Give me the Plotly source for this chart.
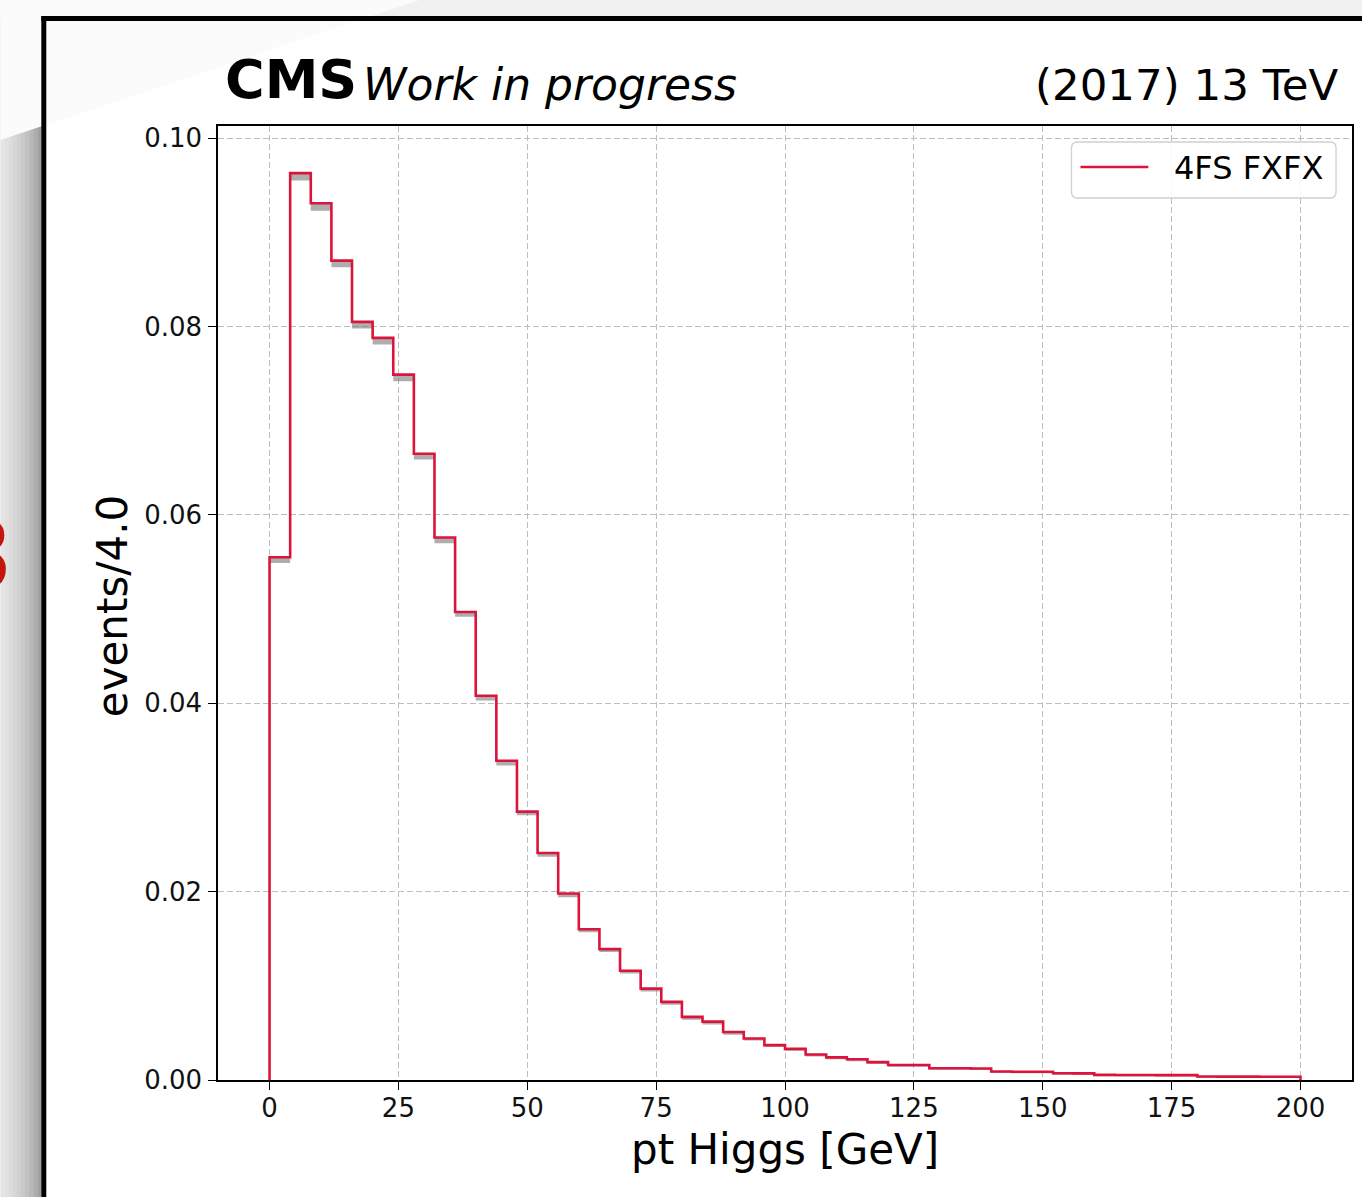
import plotly.graph_objects as go

# Higgs pT histogram, 4 GeV bins, normalised
bin_edges = list(range(0, 204, 4))
events_4fs_fxfx = [
    0.0555, 0.0963, 0.0931, 0.0870, 0.0805, 0.0788, 0.0749, 0.0665, 0.0576, 0.0497,
    0.0408, 0.0339, 0.0285, 0.0241, 0.0198, 0.0160, 0.0139, 0.0116, 0.0097, 0.0083,
    0.0067, 0.0062, 0.0051, 0.0044, 0.0037, 0.0033, 0.0027, 0.0024, 0.0022, 0.0019,
    0.0016, 0.0016, 0.00125, 0.00124, 0.00122, 0.00090, 0.00088, 0.00087, 0.00072, 0.00070,
    0.00054, 0.00053, 0.00053, 0.00052, 0.00052, 0.00037, 0.00036, 0.00036, 0.00035, 0.00035,
]
# statistical uncertainty per bin (lower side of the shaded band)
stat_unc = [
    0.0006, 0.0008, 0.0008, 0.0007, 0.0007, 0.0007, 0.0007, 0.0006, 0.0006, 0.0005,
    0.0005, 0.0005, 0.0004, 0.0004, 0.0004, 0.0003, 0.0003, 0.0003, 0.0003, 0.0003,
    0.0003, 0.0003, 0.0003, 0.0002, 0.0002, 0.0002, 0.0002, 0.0002, 0.0002, 0.0002,
    0.0002, 0.0002, 0.00015, 0.00015, 0.00015, 0.00015, 0.00015, 0.00015, 0.00015, 0.00015,
    0.00015, 0.00015, 0.00015, 0.00015, 0.00015, 0.00015, 0.00015, 0.00015, 0.00015, 0.00015,
]
x_ticks = [0, 25, 50, 75, 100, 125, 150, 175, 200]
y_ticks = [0.00, 0.02, 0.04, 0.06, 0.08, 0.10]
series_label = "4FS FXFX"
x_title = "pt Higgs [GeV]"
y_title = "events/4.0"

RED = "#dc143c"
FONT = "DejaVu Sans"

# canvas geometry (pixels)
FW, FH = 1364, 1197
PL, PR, PT, PB = 218, 1354, 126, 1080


def fx(px):
    return (px - PL) / (PR - PL)


def fy(py):
    return (PB - py) / (PB - PT)


fig = go.Figure()

# shaded uncertainty band below each bin content
band_lo = [v - e for v, e in zip(events_4fs_fxfx, stat_unc)]
fig.add_trace(go.Scatter(
    x=bin_edges, y=band_lo + [band_lo[-1]], mode="lines", line_shape="hv",
    line=dict(width=0, color="rgba(0,0,0,0)"), hoverinfo="skip", showlegend=False,
))
fig.add_trace(go.Scatter(
    x=bin_edges, y=events_4fs_fxfx + [events_4fs_fxfx[-1]], mode="lines", line_shape="hv",
    line=dict(width=0, color="rgba(0,0,0,0)"), fill="tonexty",
    fillcolor="rgba(120,120,120,0.6)", hoverinfo="skip", showlegend=False,
))

# step outline, starting and ending on the baseline
step_x = [bin_edges[0]] + bin_edges[:-1] + [bin_edges[-1]]
step_y = [0] + events_4fs_fxfx + [0]
fig.add_trace(go.Scatter(
    x=step_x, y=step_y, mode="lines", line_shape="hv",
    line=dict(color=RED, width=2.6), name=series_label, showlegend=False,
))

shapes = []
# surrounding window background
shapes.append(dict(type="rect", xref="paper", yref="paper", x0=fx(0), x1=fx(FW), y0=fy(0), y1=fy(18),
                   fillcolor="#f1f1f1", line_width=0, layer="below"))
grad = ["#e4e4e4", "#e0e0e0", "#dcdcdc", "#d6d6d6", "#d0d0d0", "#c9c9c9",
        "#c1c1c1", "#b8b8b8", "#adadad", "#a0a0a0"]
for i, c in enumerate(grad):
    shapes.append(dict(type="rect", xref="paper", yref="paper", x0=fx(i * 4.1), x1=fx((i + 1) * 4.1 + 0.3),
                       y0=fy(18), y1=fy(FH), fillcolor=c, line_width=0, layer="below"))
shapes.append(dict(type="path", xref="paper", yref="paper",
                   path=f"M {fx(0)} {fy(0)} L {fx(420)} {fy(0)} L {fx(0)} {fy(140)} Z",
                   fillcolor="#fbfbfb", line_width=0, layer="below"))
# dark window frame
shapes.append(dict(type="rect", xref="paper", yref="paper", x0=fx(41), x1=fx(46), y0=fy(16), y1=fy(FH),
                   fillcolor="#000000", line_width=0, layer="below"))
shapes.append(dict(type="rect", xref="paper", yref="paper", x0=fx(41), x1=fx(FW), y0=fy(16), y1=fy(21),
                   fillcolor="#000000", line_width=0, layer="below"))

# legend box with rounded corners
lx0, lx1, ly0, ly1, r = 1073, 1338, 142, 198, 6
legend_path = (
    f"M {fx(lx0 + r)} {fy(ly0)} L {fx(lx1 - r)} {fy(ly0)} "
    f"Q {fx(lx1)} {fy(ly0)} {fx(lx1)} {fy(ly0 + r)} L {fx(lx1)} {fy(ly1 - r)} "
    f"Q {fx(lx1)} {fy(ly1)} {fx(lx1 - r)} {fy(ly1)} L {fx(lx0 + r)} {fy(ly1)} "
    f"Q {fx(lx0)} {fy(ly1)} {fx(lx0)} {fy(ly1 - r)} L {fx(lx0)} {fy(ly0 + r)} "
    f"Q {fx(lx0)} {fy(ly0)} {fx(lx0 + r)} {fy(ly0)} Z"
)
shapes.append(dict(type="path", xref="paper", yref="paper", path=legend_path,
                   fillcolor="rgba(255,255,255,0.85)", line=dict(color="#d0d0d0", width=1.3), layer="above"))
shapes.append(dict(type="line", xref="paper", yref="paper", x0=fx(1082), x1=fx(1150), y0=fy(167), y1=fy(167),
                   line=dict(color=RED, width=2.6), layer="above"))

annotations = [
    dict(text="<b>CMS</b>", x=fx(223), y=fy(80), xref="paper", yref="paper", xanchor="left", yanchor="middle",
         showarrow=False, font=dict(family=FONT, size=54, color="black")),
    dict(text="<i>Work in progress</i>", x=fx(361), y=fy(85), xref="paper", yref="paper", xanchor="left",
         yanchor="middle", showarrow=False, font=dict(family=FONT, size=44, color="black")),
    dict(text="(2017) 13 TeV", x=fx(1343), y=fy(85), xref="paper", yref="paper", xanchor="right",
         yanchor="middle", showarrow=False, font=dict(family=FONT, size=43.5, color="black")),
    dict(text=x_title, x=fx(786), y=fy(1149), xref="paper", yref="paper", xanchor="center", yanchor="middle",
         showarrow=False, font=dict(family=FONT, size=42, color="black")),
    dict(text=y_title, x=fx(112), y=fy(606), xref="paper", yref="paper", xanchor="center", yanchor="middle",
         textangle=-90, showarrow=False, font=dict(family=FONT, size=42, color="black")),
    dict(text=series_label, x=fx(1174), y=fy(168), xref="paper", yref="paper", xanchor="left", yanchor="middle",
         showarrow=False, font=dict(family=FONT, size=32, color="black")),
    dict(text="<b>8</b>", x=fx(14), y=fy(556), xref="paper", yref="paper", xanchor="right", yanchor="middle",
         showarrow=False, font=dict(family=FONT, size=96, color="#c4150c")),
]

axis_common = dict(
    showline=True, linecolor="black", linewidth=1.5, mirror=True,
    ticks="outside", ticklen=8, tickwidth=1.3, tickcolor="black",
    tickfont=dict(family=FONT, size=26, color="#111111"),
    showgrid=True, gridcolor="#bdbdbd", gridwidth=1, griddash="6px,3px",
    zeroline=False,
)

fig.update_layout(
    width=FW, height=FH, autosize=False,
    margin=dict(l=PL, r=FW - PR, t=PT, b=FH - PB, pad=0),
    paper_bgcolor="white", plot_bgcolor="white",
    showlegend=False,
    shapes=shapes, annotations=annotations,
    xaxis=dict(range=[-10, 210], tickmode="array", tickvals=x_ticks, ticklabelstandoff=-4,
               ticktext=[str(t) for t in x_ticks], **axis_common),
    yaxis=dict(range=[0, 0.1013], tickmode="array", tickvals=y_ticks, ticklabelstandoff=1,
               ticktext=[f"{t:.2f}" for t in y_ticks], **axis_common),
)

fig.write_html("out.html")
